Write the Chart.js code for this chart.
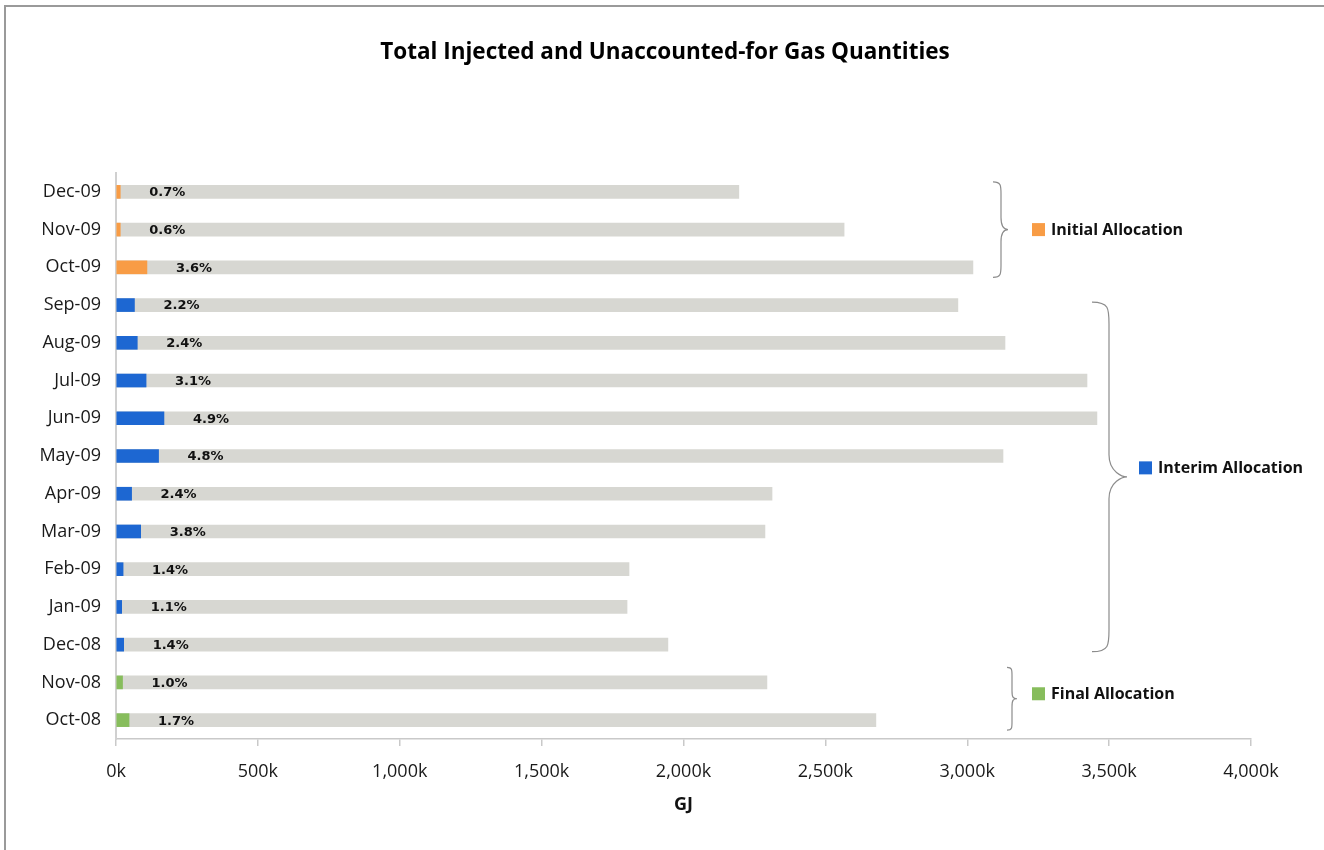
<!DOCTYPE html>
<html>
<head>
<meta charset="utf-8">
<script src="https://cdn.jsdelivr.net/npm/chart.js@4.4.1/dist/chart.umd.min.js"></script>
<style>
  html, body { margin: 0; padding: 0; background: #ffffff; }
  #wrap { position: relative; width: 1324px; height: 850px; }
  #frame { position: absolute; left: 4px; top: 5px; right: 0; bottom: 0; border-left: 2px solid #9a9a9a; border-top: 2px solid #9a9a9a; pointer-events: none; }
  canvas { position: absolute; left: 0; top: 0; }
</style>
</head>
<body>
<div id="wrap">
  <canvas id="c" width="1324" height="850"></canvas>
  <div id="frame"></div>
</div>
<script>
const chartTitle = 'Total Injected and Unaccounted-for Gas Quantities';
const axisTitle = 'GJ';
const categories = ['Dec-09','Nov-09','Oct-09','Sep-09','Aug-09','Jul-09','Jun-09','May-09','Apr-09','Mar-09','Feb-09','Jan-09','Dec-08','Nov-08','Oct-08'];
const injectedGJ = [2195000, 2566000, 3020000, 2967000, 3133000, 3422000, 3457000, 3126000, 2312000, 2287000, 1808000, 1801000, 1945000, 2294000, 2678000];
const unaccountedGJ = [15000, 15000, 109000, 65000, 75000, 106000, 169000, 150000, 55000, 87000, 25000, 20000, 27000, 23000, 46000];
const pctLabels = ['0.7%','0.6%','3.6%','2.2%','2.4%','3.1%','4.9%','4.8%','2.4%','3.8%','1.4%','1.1%','1.4%','1.0%','1.7%'];
const allocation = ['Initial','Initial','Initial','Interim','Interim','Interim','Interim','Interim','Interim','Interim','Interim','Interim','Interim','Final','Final'];
const groupNames = ['Initial','Interim','Final'];
const groupLabels = ['Initial Allocation','Interim Allocation','Final Allocation'];
const xMin = 0, xMax = 4000000, xStep = 500000;

const groupColors = { Initial: '#f89c45', Interim: '#1d67d2', Final: '#87bd5c' };
const grayColor = '#d7d7d2';
// brace geometry (style only)
const braceStyle = {
  Initial: { x: 993, d: 8, tip: 15, padTop: 10, padBot: 10, keyX: 1032, r: 12, keyDy: 0 },
  Interim: { x: 1092, d: 17, tip: 35, padTop: 3, padBot: 7, keyX: 1139, r: 22, keyDy: -9 },
  Final:   { x: 1007, d: 5, tip: 10, padTop: 15, padBot: 10, keyX: 1032, r: 8, keyDy: -5 }
};
const mainFont = '"Open Sans", "Noto Sans", sans-serif';

function drawBrace(ctx, x, top, bottom, d, tipW, mid, r) {
  const bx = x + d;
  ctx.beginPath();
  ctx.moveTo(x, top);
  ctx.bezierCurveTo(bx, top, bx, top + r * 0.3, bx, top + r);
  ctx.lineTo(bx, mid - r);
  ctx.bezierCurveTo(bx, mid - r * 0.2, x + tipW - 4, mid, x + tipW, mid);
  ctx.bezierCurveTo(x + tipW - 4, mid, bx, mid + r * 0.2, bx, mid + r);
  ctx.lineTo(bx, bottom - r);
  ctx.bezierCurveTo(bx, bottom - r * 0.3, bx, bottom, x, bottom);
  ctx.stroke();
}

const overlayPlugin = {
  id: 'overlay',
  afterDatasetsDraw(chart) {
    const ctx = chart.ctx;
    const xs = chart.scales.x, ys = chart.scales.y;
    ctx.save();
    // percentage labels
    ctx.font = 'bold 13px "DejaVu Sans", sans-serif';
    ctx.fillStyle = '#111111';
    ctx.textAlign = 'center';
    ctx.textBaseline = 'middle';
    categories.forEach((c, i) => {
      const xe = xs.getPixelForValue(unaccountedGJ[i]);
      const yc = ys.getPixelForValue(i);
      ctx.fillText(pctLabels[i], xe + 47, yc + 1);
    });
    // braces + group keys
    groupNames.forEach((g, gi) => {
      const idx = allocation.map((a, i) => a === g ? i : -1).filter(i => i >= 0);
      const s = braceStyle[g];
      const top = ys.getPixelForValue(idx[0]) - s.padTop;
      const bottom = ys.getPixelForValue(idx[idx.length - 1]) + s.padBot;
      const mid = (top + bottom) / 2;
      ctx.strokeStyle = '#8c8c8c';
      ctx.lineWidth = 1.2;
      drawBrace(ctx, s.x, top, bottom, s.d, s.tip, mid, s.r);
      const ky = mid + s.keyDy;
      ctx.fillStyle = groupColors[g];
      ctx.fillRect(s.keyX, ky - 6.5, 13, 13);
      ctx.fillStyle = '#111111';
      ctx.textAlign = 'left';
      ctx.font = 'bold 16px ' + mainFont;
      ctx.fillText(groupLabels[gi], s.keyX + 19, ky + 0.5);
    });
    ctx.restore();
  }
};

const titlePlugin = {
  id: 'mytitle',
  afterDraw(chart) {
    const ctx = chart.ctx;
    ctx.save();
    ctx.font = 'bold 22.5px ' + mainFont;
    ctx.fillStyle = '#000000';
    ctx.textAlign = 'center';
    ctx.textBaseline = 'middle';
    ctx.fillText(chartTitle, 665, 53);
    ctx.restore();
  }
};

new Chart(document.getElementById('c'), {
  type: 'bar',
  data: {
    labels: categories,
    datasets: [
      {
        label: 'Unaccounted-for Gas',
        data: unaccountedGJ,
        backgroundColor: allocation.map(a => groupColors[a]),
        barThickness: 13,
        order: 0
      },
      {
        label: 'Total Injected',
        data: injectedGJ,
        backgroundColor: grayColor,
        barThickness: 13,
        order: 1
      }
    ]
  },
  options: {
    indexAxis: 'y',
    responsive: false,
    animation: false,
    layout: { padding: { top: 173, right: 73, bottom: 34, left: 0 } },
    plugins: { legend: { display: false }, tooltip: { enabled: false }, title: { display: false } },
    scales: {
      x: {
        min: xMin, max: xMax,
        stacked: false,
        grid: { drawOnChartArea: false, drawTicks: true, tickLength: 7, color: '#c9c9c9', lineWidth: 1.5 },
        border: { display: true, color: '#c9c9c9', width: 1.5 },
        ticks: {
          stepSize: xStep,
          padding: 15,
          maxRotation: 0,
          color: '#1a1a1a',
          font: { family: mainFont, size: 18 },
          callback: v => (v / 1000).toLocaleString('en-US') + 'k'
        },
        title: { display: true, text: axisTitle, color: '#111111', font: { family: mainFont, size: 18, weight: 'bold' }, padding: { top: 4, bottom: 0 } },
        afterFit(scale) { scale.height = 77; }
      },
      y: {
        stacked: true,
        grid: { display: false, drawTicks: false },
        border: { display: true, color: '#d0d0d0', width: 2 },
        ticks: { padding: 15, color: '#1a1a1a', font: { family: mainFont, size: 18 } },
        afterFit(scale) { scale.width = 116; }
      }
    }
  },
  plugins: [overlayPlugin, titlePlugin]
});
</script>
</body>
</html>
